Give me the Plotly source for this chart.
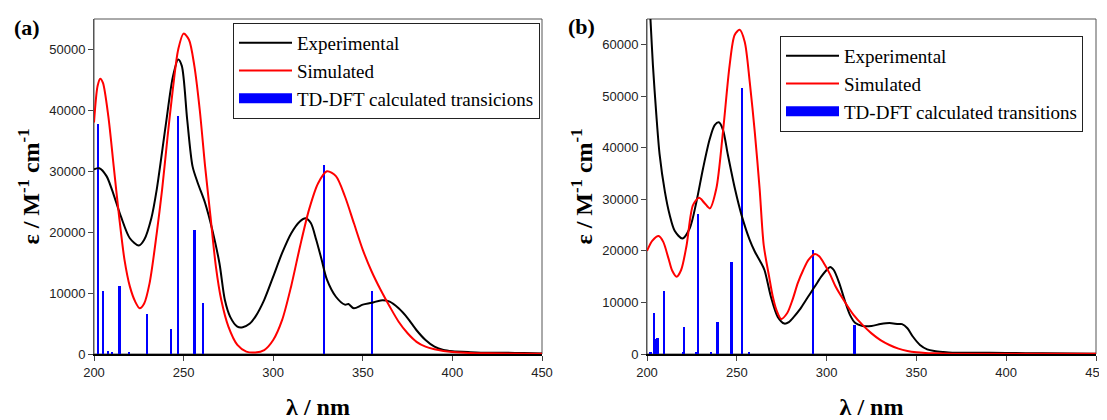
import plotly.graph_objects as go

# ---------------- data ----------------
# Panel (a)
wl_exp_a = [200, 203, 207, 210, 215, 220, 225, 228, 232, 235, 240, 244, 247, 249, 252,
            255, 258, 262, 266, 270, 273, 276, 280, 283, 287, 290, 295, 300, 305, 310,
            315, 318, 321, 324, 327, 330, 335, 340, 342, 345, 350, 355, 360, 365, 370,
            375, 380, 385, 390, 395, 400, 410, 420, 430, 440, 450]
eps_exp_a = [30300, 30500, 29200, 27000, 22600, 19000, 17800, 18750, 22300, 27000, 37500, 45500, 48350, 47300, 38500,
             30800, 28000, 24800, 20400, 14900, 8900, 6100, 4500, 4400, 5000, 6100, 8900, 12700, 16600, 19800,
             21800, 22300, 21500, 18750, 15500, 12200, 9400, 8100, 8200, 7500, 8100, 8400, 8800, 8600, 7500,
             5900, 3900, 2300, 1200, 650, 450, 300, 200, 200, 150, 100]

wl_sim_a = [200, 202, 203.5, 205, 208, 211, 214, 217, 220, 223, 225.5, 228, 231, 235, 238,
            241, 244, 247, 250, 253, 256, 259, 262, 265, 268, 271, 275, 280, 285, 290,
            295, 300, 305, 310, 315, 320, 325, 330, 335, 340, 345, 350, 355, 360, 365,
            370, 375, 380, 385, 390, 395, 400, 410, 420, 450]
eps_sim_a = [38000, 44000, 45200, 44500, 39000, 30800, 22600, 15500, 11100, 8600, 7500, 8300, 11600, 19800, 27000,
             35500, 43500, 50000, 52600, 51600, 47300, 40100, 30800, 22600, 14400, 8900, 4500, 1500, 400, 250,
             650, 2300, 5600, 11100, 17700, 23700, 28000, 30000, 29200, 25900, 21500, 17100, 13500, 10500, 7800,
             5300, 3400, 2000, 1200, 770, 500, 330, 160, 110, 50]

wl_bar_a = [202.2, 205.0, 207.8, 210.2, 214.3, 219.7, 229.6, 243.0, 246.9, 256.0, 260.8, 328.3, 355.2]
f_bar_a = [37800, 10330, 540, 220, 11100, 220, 6600, 4060, 39100, 20400, 8350, 31000, 10400]

# Panel (b)
wl_exp_b = [200, 201, 202, 203.3, 205.2, 207, 210, 212.6, 215.4, 219.7, 223.8, 227.5, 231.2, 235, 237.7,
            240, 242.3, 245, 249, 252.6, 257, 260, 263, 265.4, 269, 272.8, 276.5, 279, 282,
            285, 288, 291, 294, 297, 300, 302, 304, 307, 310, 313, 316, 320, 325, 330,
            335, 340, 342, 345, 348, 352, 356, 360, 365, 370, 380, 400, 420, 450]
eps_exp_b = [77000, 71000, 64500, 56000, 46400, 38800, 31400, 27000, 23900, 22400, 24400, 29500, 36000, 41800, 44400,
             44950, 43500, 38700, 32000, 27000, 22300, 19900, 18000, 16300, 11100, 7200, 5900, 6200, 7300,
             8600, 10200, 11800, 13400, 15000, 16300, 16900, 16300, 13800, 10500, 7600, 6000, 5450, 5450, 5800,
             6000, 5800, 5800, 5000, 3400, 1750, 900, 580, 390, 260, 260, 200, 130, 60]

wl_sim_b = [200, 203, 206.5, 209, 212, 214, 216.5, 219, 222, 225.6, 229, 232, 235, 238.6, 242.3,
            246, 248.8, 251.6, 254.4, 257.2, 260, 262.7, 265, 268, 270, 272, 274.7, 278, 281, 284,
            287, 290, 293.5, 296, 299, 302, 305, 310, 315, 320, 325, 330, 335, 340, 345,
            350, 355, 360, 370, 450]
eps_sim_b = [20000, 22000, 22900, 21800, 18500, 16200, 15000, 16300, 21000, 28900, 30300, 29300, 28250, 32100, 43100,
             56000, 61900, 62900, 60600, 52800, 43100, 32100, 21100, 15000, 11200, 8600, 6800, 7900, 10500, 13800,
             16300, 18300, 19400, 18900, 17300, 15400, 13100, 10200, 7600, 5650, 4000, 2700, 1750, 1040, 580,
             320, 190, 130, 60, 30]

wl_bar_b = [202.0, 203.9, 204.8, 205.8, 209.3, 219.9, 220.5, 227.4, 228.5, 235.5, 239.2, 247.1, 253.0, 256.9, 292.4, 315.5]
f_bar_b = [300, 7900, 3000, 3200, 12300, 300, 5300, 450, 27100, 300, 6200, 17800, 51600, 300, 20200, 5600]

legend_names_a = ["Experimental", "Simulated", "TD-DFT calculated transicions"]
legend_names_b = ["Experimental", "Simulated", "TD-DFT calculated transitions"]

x_ticks = [200, 250, 300, 350, 400, 450]

# ---------------- figure ----------------
# The page body has the browser's default 8 px margin, so the figure is drawn
# 8 px smaller and all layout positions are given relative to that offset.
OFF = 8
W, H = 1107 - OFF, 420 - OFF
fig = go.Figure()

SERIF = "Liberation Serif"
SANS = "Liberation Sans"


def px(x):
    return (x - OFF) / W


def py(y):
    return 1 - (y - OFF) / H


def add_panel(xa, ya, leg, wl_e, e_e, wl_s, e_s, wl_b, f_b, names):
    fig.add_trace(go.Bar(x=wl_b, y=f_b, width=1.3, marker=dict(color="#0000ff", line=dict(width=0)),
                         showlegend=False, xaxis=xa, yaxis=ya, hoverinfo="x+y"))
    fig.add_trace(go.Scatter(x=wl_e, y=e_e, mode="lines", name=names[0],
                             line=dict(color="black", width=2, shape="spline", smoothing=0.8),
                             xaxis=xa, yaxis=ya, legend=leg))
    fig.add_trace(go.Scatter(x=wl_s, y=e_s, mode="lines", name=names[1],
                             line=dict(color="#ff0000", width=2, shape="spline", smoothing=0.8),
                             xaxis=xa, yaxis=ya, legend=leg))
    # legend entry for the transitions (bars)
    fig.add_trace(go.Scatter(x=[None], y=[None], mode="lines", name=names[2],
                             line=dict(color="#0000ff", width=10),
                             xaxis=xa, yaxis=ya, legend=leg))


add_panel("x", "y", "legend", wl_exp_a, eps_exp_a, wl_sim_a, eps_sim_a, wl_bar_a, f_bar_a, legend_names_a)
add_panel("x2", "y2", "legend2", wl_exp_b, eps_exp_b, wl_sim_b, eps_sim_b, wl_bar_b, f_bar_b, legend_names_b)

ydom = [py(354), py(19)]
xdom_a = [px(94), px(542)]
xdom_b = [px(647), px(1096)]

xaxis_common = dict(range=[200, 450], tickvals=x_ticks, showline=True, linecolor="black", linewidth=2,
                    ticks="outside", ticklen=5, tickcolor="#444", tickwidth=1,
                    showgrid=False, zeroline=False, mirror=False, automargin=False,
                    tickfont=dict(family=SANS, size=13, color="#222"),
                    title=dict(text="λ / nm", standoff=23,
                               font=dict(family=SERIF, size=24, color="black", weight="bold")))
yaxis_common = dict(showline=True, linecolor="#555", linewidth=1, ticks="outside", ticklen=5,
                    tickcolor="#444", tickwidth=1, showgrid=False, zeroline=False, mirror=False,
                    dtick=10000, tickformat="d", automargin=False,
                    tickfont=dict(family=SANS, size=13, color="#222"),
                    title=dict(text="ε / M<sup>-1</sup> cm<sup>-1</sup>\u00a0\u00a0\u00a0", standoff=2,
                               font=dict(family=SERIF, size=24, color="black", weight="bold")))

legend_common = dict(xanchor="left", yanchor="top", bordercolor="#222", borderwidth=1, bgcolor="white",
                     font=dict(family=SERIF, size=19, color="black"), tracegroupgap=0, itemwidth=53)

fig.update_layout(
    width=W, height=H, margin=dict(l=0, r=0, t=0, b=0, autoexpand=False),
    paper_bgcolor="white", plot_bgcolor="white",
    barmode="overlay", bargap=0,
    xaxis=dict(domain=xdom_a, anchor="y", **xaxis_common),
    yaxis=dict(domain=ydom, anchor="x", range=[0, 55000], **yaxis_common),
    xaxis2=dict(domain=xdom_b, anchor="y2", **xaxis_common),
    yaxis2=dict(domain=ydom, anchor="x2", range=[0, 65000], **yaxis_common),
    legend=dict(x=px(233), y=py(23), **legend_common),
    legend2=dict(x=px(780), y=py(36), **legend_common),
    showlegend=True,
    annotations=[
        dict(text="(a)", x=px(27), y=py(28), xref="paper", yref="paper", showarrow=False,
             xanchor="center", yanchor="middle",
             font=dict(family=SERIF, size=22, color="black", weight="bold")),
        dict(text="(b)", x=px(581), y=py(27), xref="paper", yref="paper", showarrow=False,
             xanchor="center", yanchor="middle",
             font=dict(family=SERIF, size=22, color="black", weight="bold")),
    ],
    shapes=[
        dict(type="rect", xref="x domain", yref="y domain", x0=0, x1=1, y0=0, y1=1,
             line=dict(color="#555", width=1), layer="below"),
        dict(type="rect", xref="x2 domain", yref="y2 domain", x0=0, x1=1, y0=0, y1=1,
             line=dict(color="#555", width=1), layer="below"),
    ],
)

fig.write_html("out.html")
